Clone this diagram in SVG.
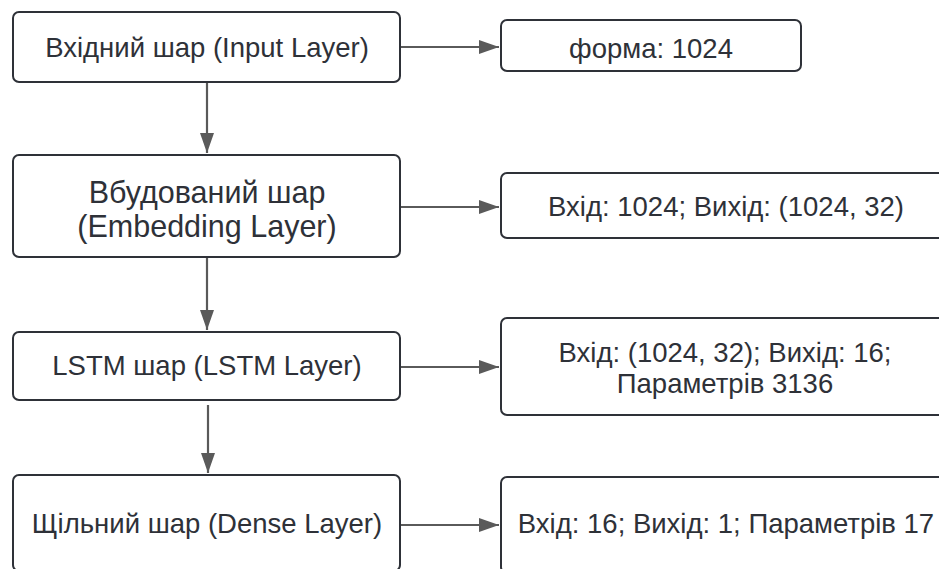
<svg xmlns="http://www.w3.org/2000/svg" width="939" height="569" viewBox="0 0 939 569">
  <style>
    .box { fill: #ffffff; stroke: #2e3138; stroke-width: 2; }
    .lbl { font-family: "Liberation Sans", Arial, sans-serif; font-size: 27.5px; fill: #2e3138; text-anchor: middle; }
    .big { font-size: 30.5px; }
    .wire { fill: none; stroke: #5a5a5a; stroke-width: 2.2; }
  </style>
  <defs>
    <marker id="arrow" viewBox="0 0 20 14" refX="20" refY="7" markerWidth="20" markerHeight="14" markerUnits="userSpaceOnUse" orient="auto">
      <path d="M0,0 L20,7 L0,14 Z" fill="#5a5a5a"/>
    </marker>
  </defs>

  <rect width="939" height="569" fill="#ffffff"/>

  <!-- connectors -->
  <g id="connectors">
    <line class="wire" x1="401" y1="47" x2="499" y2="47" marker-end="url(#arrow)"/>
    <line class="wire" x1="207" y1="83" x2="207" y2="153" marker-end="url(#arrow)"/>
    <line class="wire" x1="401" y1="207" x2="499" y2="207" marker-end="url(#arrow)"/>
    <line class="wire" x1="207" y1="258" x2="207" y2="330" marker-end="url(#arrow)"/>
    <line class="wire" x1="401" y1="367" x2="499" y2="367" marker-end="url(#arrow)"/>
    <line class="wire" x1="208" y1="405" x2="208" y2="473" marker-end="url(#arrow)"/>
    <line class="wire" x1="401" y1="525" x2="499" y2="525" marker-end="url(#arrow)"/>
  </g>

  <!-- layer nodes -->
  <g id="input-layer">
    <rect class="box" x="13" y="12" width="387" height="70" rx="6"/>
    <text class="lbl" x="207" y="57">Вхідний шар (Input Layer)</text>
  </g>
  <g id="embedding-layer">
    <rect class="box" x="13" y="155" width="387" height="102" rx="6"/>
    <text class="lbl big" x="207" y="203">Вбудований шар</text>
    <text class="lbl big" x="207" y="237">(Embedding Layer)</text>
  </g>
  <g id="lstm-layer">
    <rect class="box" x="13" y="332" width="387" height="68" rx="6"/>
    <text class="lbl" x="207" y="375">LSTM шар (LSTM Layer)</text>
  </g>
  <g id="dense-layer">
    <rect class="box" x="13" y="475" width="387" height="96" rx="6"/>
    <text class="lbl" x="207" y="533">Щільний шар (Dense Layer)</text>
  </g>

  <!-- shape annotations -->
  <g id="input-shape">
    <rect class="box" x="501" y="20" width="300" height="51" rx="6"/>
    <text class="lbl" x="651" y="58">форма: 1024</text>
  </g>
  <g id="embedding-shape">
    <rect class="box" x="501" y="173" width="450" height="65" rx="6"/>
    <text class="lbl" x="726" y="216">Вхід: 1024; Вихід: (1024, 32)</text>
  </g>
  <g id="lstm-shape">
    <rect class="box" x="501" y="318" width="450" height="97" rx="6"/>
    <text class="lbl" x="725" y="362">Вхід: (1024, 32); Вихід: 16;</text>
    <text class="lbl" x="725" y="393">Параметрів 3136</text>
  </g>
  <g id="dense-shape">
    <rect class="box" x="501" y="477" width="450" height="96" rx="6"/>
    <text class="lbl" x="726" y="533">Вхід: 16; Вихід: 1; Параметрів 17</text>
  </g>
</svg>
